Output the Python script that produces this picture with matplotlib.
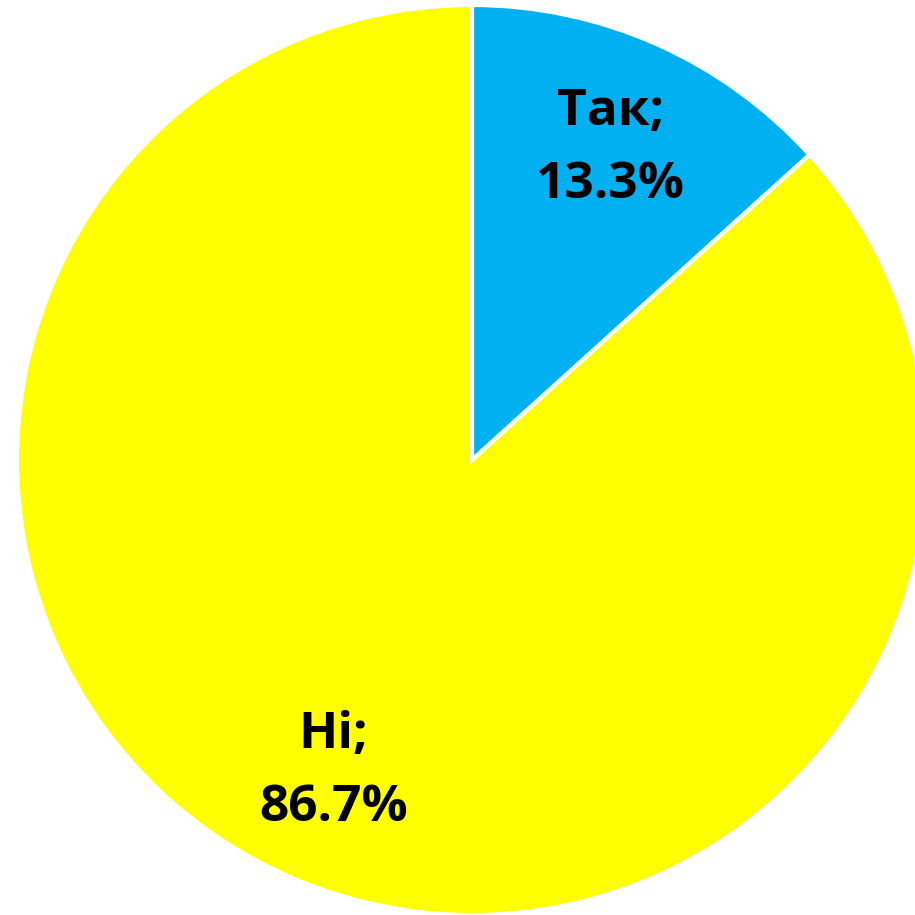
import matplotlib.pyplot as plt

categories = ["Так", "Ні"]
values = [13.3, 86.7]
colors = ["#00B0F0", "#FFFF00"]

labels = [f"{c};\n{v:.1f}%" for c, v in zip(categories, values)]

fig = plt.figure(figsize=(9.15, 9.15), dpi=100)
# pie is a bit larger than the canvas on the right side
ax = fig.add_axes([17 / 915, 0 / 915, 910 / 915, 910 / 915])
ax.pie(values, labels=labels, colors=colors, startangle=90, counterclock=False,
       labeldistance=0.75,
       wedgeprops=dict(edgecolor="white", linewidth=3),
       textprops=dict(fontsize=37, fontweight="bold", family="Open Sans",
                      ha="center", va="center", linespacing=1.6))
ax.set_xlim(-1, 1)
ax.set_ylim(-1, 1)
ax.set_aspect("equal")
ax.axis("off")

fig.savefig("out.png", dpi=100)
